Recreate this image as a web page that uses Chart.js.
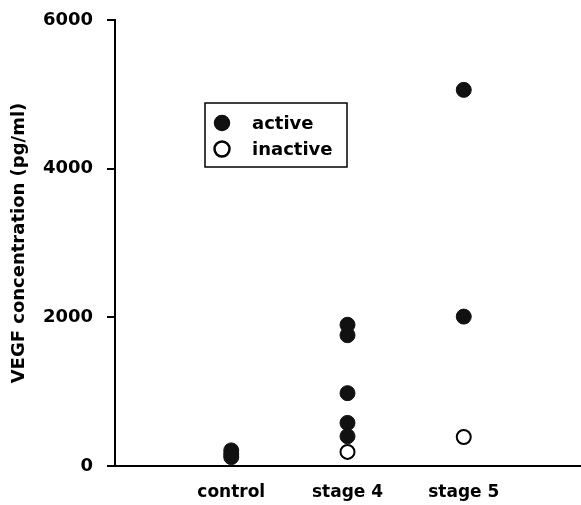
<!DOCTYPE html>
<html>
<head>
<meta charset="utf-8">
<script src="https://cdn.jsdelivr.net/npm/chart.js@4.4.1/dist/chart.umd.min.js"></script>
<style>
    html, body { margin: 0; padding: 0; background: #fff; }
    #wrap { width: 581px; height: 505px; }
</style>
</head>
<body>
<div id="wrap"><canvas id="vegfChart" width="581" height="505"></canvas></div>
<script>
// categories along the bottom (placed at x = 1, 2, 3)
const categories = ['control', 'stage 4', 'stage 5'];
const yTicks = [0, 2000, 4000, 6000];

// VEGF values (pg/ml)
const activeControl = [210, 160, 120];
const activeStage4 = [1900, 1760, 980, 580, 400];
const activeStage5 = [5060, 2010];
const inactiveControl = [];
const inactiveStage4 = [190];
const inactiveStage5 = [390];

function toPoints(groups) {
    let pts = [];
    groups.forEach((vals, i) => {
        vals.forEach(v => pts.push({ x: i + 1, y: v }));
    });
    return pts;
}

const FONT = "'DejaVu Sans', sans-serif";

// legend drawn as a boxed key inside the plot, like the original
const boxLegend = {
    id: 'boxLegend',
    afterDraw(chart) {
        const ctx = chart.ctx;
        ctx.save();
        ctx.strokeStyle = '#000';
        ctx.lineWidth = 1.5;
        ctx.strokeRect(205, 103, 142, 64);
        ctx.font = 'bold 18px ' + FONT;
        ctx.textBaseline = 'middle';
        chart.data.datasets.forEach((ds, i) => {
            const y = 123 + i * 26;
            ctx.beginPath();
            ctx.arc(222, y, 7.5, 0, Math.PI * 2);
            ctx.fillStyle = ds.backgroundColor;
            ctx.fill();
            ctx.lineWidth = ds.borderWidth + 0.5;
            ctx.strokeStyle = ds.borderColor;
            ctx.stroke();
            ctx.fillStyle = '#000';
            ctx.fillText(ds.label, 252, y + 1);
        });
        ctx.restore();
    }
};

const ctx = document.getElementById('vegfChart').getContext('2d');
new Chart(ctx, {
    type: 'scatter',
    data: {
        datasets: [
            {
                label: 'active',
                data: toPoints([activeControl, activeStage4, activeStage5]),
                backgroundColor: '#111',
                borderColor: '#111',
                borderWidth: 1,
                pointRadius: 7.5
            },
            {
                label: 'inactive',
                data: toPoints([inactiveControl, inactiveStage4, inactiveStage5]),
                backgroundColor: '#fff',
                borderColor: '#000',
                borderWidth: 2,
                pointRadius: 7
            }
        ]
    },
    options: {
        responsive: false,
        animation: false,
        layout: { autoPadding: false, padding: { top: 20, right: 1, left: 9, bottom: 0 } },
        plugins: {
            legend: { display: false },
            tooltip: { enabled: false }
        },
        scales: {
            x: {
                type: 'linear',
                min: 0,
                max: categories.length + 1,
                afterFit: function(scale) {
                    scale.height = 39;
                    scale.paddingLeft = 0;
                    scale.paddingRight = 0;
                },
                afterBuildTicks: function(scale) {
                    scale.ticks = categories.map((c, i) => ({ value: i + 1 }));
                },
                grid: { display: false },
                border: { color: '#000', width: 2 },
                ticks: {
                    color: '#000',
                    padding: 8,
                    maxRotation: 0,
                    font: { family: FONT, size: 17, weight: 'bold' },
                    callback: function(value) { return categories[value - 1] || ''; }
                }
            },
            y: {
                min: yTicks[0],
                max: yTicks[yTicks.length - 1],
                afterFit: function(scale) {
                    scale.width = 106;
                    scale.paddingTop = 0;
                    scale.paddingBottom = 0;
                },
                afterBuildTicks: function(scale) {
                    scale.ticks = yTicks.map(v => ({ value: v }));
                },
                grid: {
                    drawOnChartArea: false,
                    drawTicks: true,
                    tickLength: 8,
                    color: '#000',
                    lineWidth: 2
                },
                border: { color: '#000', width: 2 },
                ticks: {
                    color: '#000',
                    padding: 14,
                    font: { family: FONT, size: 18, weight: 'bold' },
                    callback: function(value) { return String(value); }
                },
                title: {
                    display: true,
                    text: 'VEGF concentration (pg/ml)',
                    color: '#000',
                    padding: { top: 0, bottom: 0 },
                    font: { family: FONT, size: 18, weight: 'bold' }
                }
            }
        }
    },
    plugins: [boxLegend]
});
</script>
</body>
</html>
